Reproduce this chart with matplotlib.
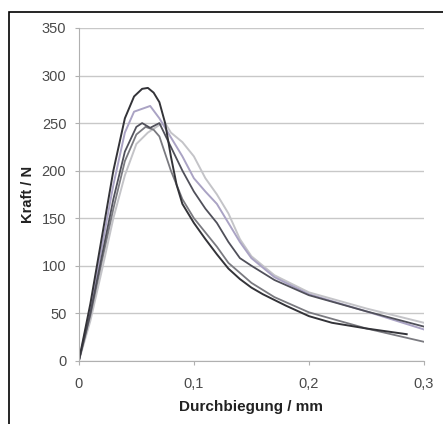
import matplotlib.pyplot as plt
from matplotlib.patches import Rectangle

plt.rcParams['font.family'] = ['Liberation Sans', 'DejaVu Sans']

# Kraft-Durchbiegungs-Kurven (5 Proben)
x_a = [0, 0.01, 0.02, 0.03, 0.04, 0.048, 0.055, 0.06, 0.065, 0.07, 0.075, 0.08, 0.085, 0.09,
       0.1, 0.11, 0.12, 0.13, 0.14, 0.15, 0.16, 0.18, 0.2, 0.22, 0.25, 0.285]
y_a = [0, 60, 130, 200, 255, 278, 286, 287, 282, 272, 250, 215, 185, 165,
       145, 128, 112, 97, 86, 77, 70, 58, 47, 40, 34, 28]

x_b = [0, 0.01, 0.02, 0.03, 0.04, 0.048, 0.055, 0.062, 0.07, 0.08, 0.09, 0.1, 0.11, 0.12,
       0.13, 0.14, 0.15, 0.17, 0.2, 0.25, 0.3]
y_b = [0, 55, 120, 185, 240, 262, 265, 268, 255, 235, 215, 192, 178, 165,
       145, 125, 108, 88, 70, 52, 33]

x_c = [0, 0.01, 0.02, 0.03, 0.04, 0.05, 0.055, 0.062, 0.07, 0.08, 0.09, 0.1, 0.11, 0.12,
       0.13, 0.14, 0.15, 0.17, 0.2, 0.25, 0.3]
y_c = [0, 50, 110, 170, 220, 246, 250, 245, 250, 225, 200, 178, 160, 145,
       125, 108, 100, 85, 69, 52, 36]

x_d = [0, 0.01, 0.02, 0.03, 0.04, 0.05, 0.058, 0.065, 0.07, 0.08, 0.09, 0.1, 0.11, 0.12,
       0.13, 0.15, 0.17, 0.2, 0.25, 0.3]
y_d = [0, 48, 105, 160, 210, 238, 246, 243, 236, 200, 170, 150, 135, 120,
       103, 82, 67, 51, 34, 20]

x_e = [0, 0.01, 0.02, 0.03, 0.04, 0.05, 0.06, 0.07, 0.075, 0.08, 0.09, 0.1, 0.11, 0.12,
       0.13, 0.14, 0.15, 0.17, 0.2, 0.25, 0.3]
y_e = [0, 42, 95, 150, 195, 228, 240, 248, 250, 240, 230, 215, 192, 175,
       155, 128, 110, 90, 72, 55, 40]

fig = plt.figure(figsize=(4.43, 4.24), dpi=100)
ax = fig.add_axes([0.178, 0.149, 0.779, 0.785])

ax.plot(x_e, y_e, color='#c4c4c8', lw=1.4)
ax.plot(x_b, y_b, color='#aaa3c4', lw=1.4)
ax.plot(x_d, y_d, color='#7a7a80', lw=1.3)
ax.plot(x_c, y_c, color='#50505a', lw=1.3)
ax.plot(x_a, y_a, color='#333338', lw=1.4)

ax.set_xlim(0, 0.3)
ax.set_ylim(0, 350)
ax.set_yticks(range(0, 351, 50))
ax.set_xticks([0, 0.1, 0.2, 0.3])
ax.set_xticklabels(['0', '0,1', '0,2', '0,3'])
ax.grid(axis='y', color='#c8c8c8', lw=1.0)
ax.set_axisbelow(True)
for s in ['top', 'right']:
    ax.spines[s].set_visible(False)
for s in ['left', 'bottom']:
    ax.spines[s].set_color('#b0b0b0')
ax.tick_params(colors='#b0b0b0', labelcolor='#4a4a4a', labelsize=10.5, length=3)
ax.tick_params(axis='x', pad=9)
ax.tick_params(axis='y', pad=6)

ax.set_xlabel('Durchbiegung / mm', fontsize=11, fontweight='bold', color='#222222', labelpad=6)
ax.set_ylabel('Kraft / N', fontsize=10.5, fontweight='bold', color='#222222', labelpad=5)

fig.patches.append(Rectangle((8.5 / 443, -0.1), 1.2, (424 - 12) / 424 + 0.1,
                             transform=fig.transFigure, fill=False,
                             edgecolor='black', lw=1.2))

fig.savefig('out.png', dpi=100)
